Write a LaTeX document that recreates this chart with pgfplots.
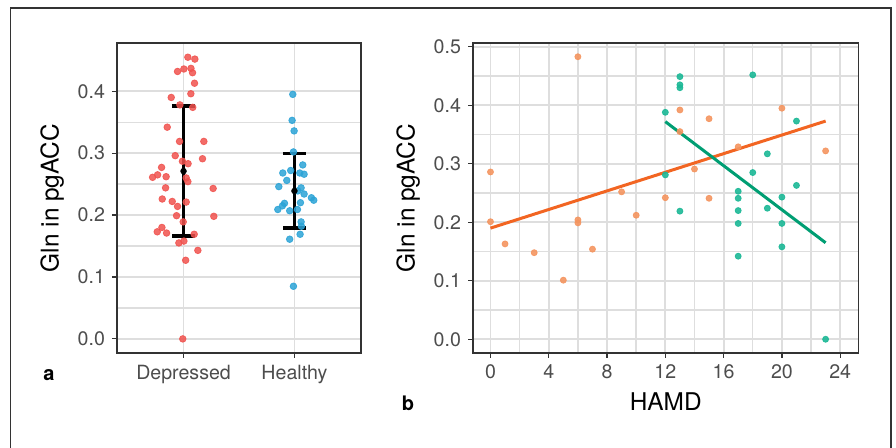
\documentclass[border=0pt]{standalone}
\usepackage{fontspec}
\setmainfont{TeX Gyre Heros}
\usepackage{pgfplots}
\pgfplotsset{compat=1.18}

\definecolor{axisgray}{HTML}{333333}
\definecolor{labgray}{HTML}{4D4D4D}
\definecolor{gridgray}{HTML}{DEDEDE}
\definecolor{redpt}{RGB}{240,82,78}
\definecolor{bluept}{RGB}{43,163,214}
\definecolor{orangept}{RGB}{244,149,96}
\definecolor{tealpt}{RGB}{28,184,150}
\definecolor{orangeln}{RGB}{242,101,34}
\definecolor{tealln}{RGB}{0,158,115}

\pgfplotsset{
  ggbox/.style={
    scale only axis,
    anchor=south west,
    axis line style={draw=axisgray, line width=0.7pt},
    tick align=outside,
    xtick pos=bottom, ytick pos=left,
    tick style={draw=axisgray, line width=0.6pt},
    major tick length=2.5pt,
    minor tick length=0pt,
    grid=both,
    major grid style={draw=gridgray, line width=0.9pt},
    minor grid style={draw=gridgray, line width=0.7pt},
    tick label style={font=\fontsize{9.8}{10}\selectfont, text=labgray},
    label style={font=\fontsize{12.2}{13}\selectfont},
    /pgf/number format/assume math mode=true,
    yticklabel style={/pgf/number format/.cd, fixed, fixed zerofill, precision=1},
  },
}

\begin{document}
\begin{tikzpicture}
\path[use as bounding box] (0,0) rectangle (448pt,-224pt);

% panel a
\begin{axis}[ggbox,
  at={(58.5pt,-176.5pt)}, width=122pt, height=155pt,
  xmin=0.4, xmax=2.6, ymin=-0.0228, ymax=0.478,
  xtick={1,2}, xticklabels={Depressed,Healthy},
  ytick={0,0.1,0.2,0.3,0.4}, minor y tick num=1,
  ylabel={Gln in pgACC},
]
\addplot[only marks, mark=*, mark size=1.65pt, redpt, mark options={fill=redpt, opacity=0.85}] coordinates {
 (1.039,0.455) (1.102,0.452) (1.003,0.436) (1.067,0.437) (0.946,0.432)
 (1.081,0.430) (1.099,0.413) (1.066,0.396) (0.889,0.390) (0.967,0.378)
 (1.083,0.374) (0.853,0.342) (0.964,0.319) (1.183,0.319) (0.925,0.296)
 (1.171,0.291) (0.990,0.287) (1.041,0.283) (0.802,0.277) (0.766,0.265)
 (0.721,0.261) (0.843,0.262) (1.024,0.260) (1.039,0.254) (0.838,0.244)
 (1.267,0.243) (0.808,0.226) (0.898,0.222) (1.024,0.221) (0.946,0.214)
 (0.937,0.199) (1.273,0.198) (0.997,0.189) (0.805,0.180) (0.763,0.173)
 (0.847,0.171) (1.096,0.169) (1.003,0.158) (0.958,0.155) (1.129,0.143)
 (1.019,0.127) (0.993,0.000)
};
\addplot[only marks, mark=*, mark size=1.65pt, bluept, mark options={fill=bluept, opacity=0.85}] coordinates {
 (1.985,0.395) (1.979,0.353) (1.997,0.336) (1.991,0.302) (2.075,0.281)
 (1.966,0.272) (1.895,0.268) (2.048,0.268) (2.087,0.266) (1.931,0.256)
 (1.859,0.246) (2.060,0.244) (2.030,0.239) (2.087,0.234) (2.153,0.228)
 (2.174,0.224) (1.910,0.219) (2.054,0.220) (1.892,0.215) (1.850,0.209)
 (1.957,0.207) (2.027,0.209) (2.060,0.189) (2.063,0.182) (2.051,0.169)
 (1.957,0.161) (1.991,0.085)
};
\addplot[only marks, mark=*, mark size=1.4pt, black, line width=1.7pt,
  mark options={line width=0.4pt},
  error bars/.cd, y dir=both, y explicit, error mark=|,
  error bar style={line width=1.7pt, black},
  error mark options={line width=1.7pt, mark size=5.8pt, black}]
  coordinates {(1,0.271) +- (0,0.105) (2,0.239) +- (0,0.060)};
\end{axis}

% panel b
\begin{axis}[ggbox,
  at={(236.5pt,-176.5pt)}, width=192.7pt, height=155pt,
  xmin=-1.2, xmax=25.25, ymin=-0.0235, ymax=0.5065,
  xtick={0,4,...,24}, minor x tick num=1,
  ytick={0,0.1,0.2,0.3,0.4,0.5}, minor y tick num=1,
  xlabel={HAMD}, ylabel={Gln in pgACC},
]
\addplot[only marks, mark=*, mark size=1.5pt, orangept, mark options={fill=orangept, opacity=0.9}] coordinates {
 (6,0.483) (0,0.286) (0,0.201) (1,0.163) (3,0.148) (5,0.101) (6,0.204)
 (6,0.199) (7,0.154) (9,0.252) (10,0.212) (12,0.242) (13,0.392) (13,0.355)
 (14,0.291) (15,0.377) (15,0.241) (17,0.329) (20,0.395) (23,0.322)
};
\addplot[only marks, mark=*, mark size=1.5pt, tealpt, mark options={fill=tealpt, opacity=0.9}] coordinates {
 (13,0.449) (13,0.435) (13,0.430) (18,0.452) (12,0.388) (21,0.373)
 (19,0.317) (18,0.285) (12,0.281) (21,0.263) (17,0.253) (17,0.241)
 (20,0.243) (19,0.224) (13,0.219) (17,0.220) (17,0.198) (20,0.198)
 (20,0.158) (17,0.142) (23,0.000)
};
\addplot[orangeln, line width=1.5pt] coordinates {(0,0.190) (23,0.373)};
\addplot[tealln, line width=1.5pt] coordinates {(12,0.372) (23,0.165)};
\end{axis}

\node[font=\bfseries\fontsize{10}{10}\selectfont] at (24.5pt,-187.5pt) {a};
\node[font=\bfseries\fontsize{10}{10}\selectfont] at (204pt,-201.5pt) {b};
\draw[axisgray, line width=0.6pt] (5.25pt,-224pt) -- (5.25pt,-4pt) -- (445.5pt,-4pt) -- (445.5pt,-224pt);
\end{tikzpicture}
\end{document}
